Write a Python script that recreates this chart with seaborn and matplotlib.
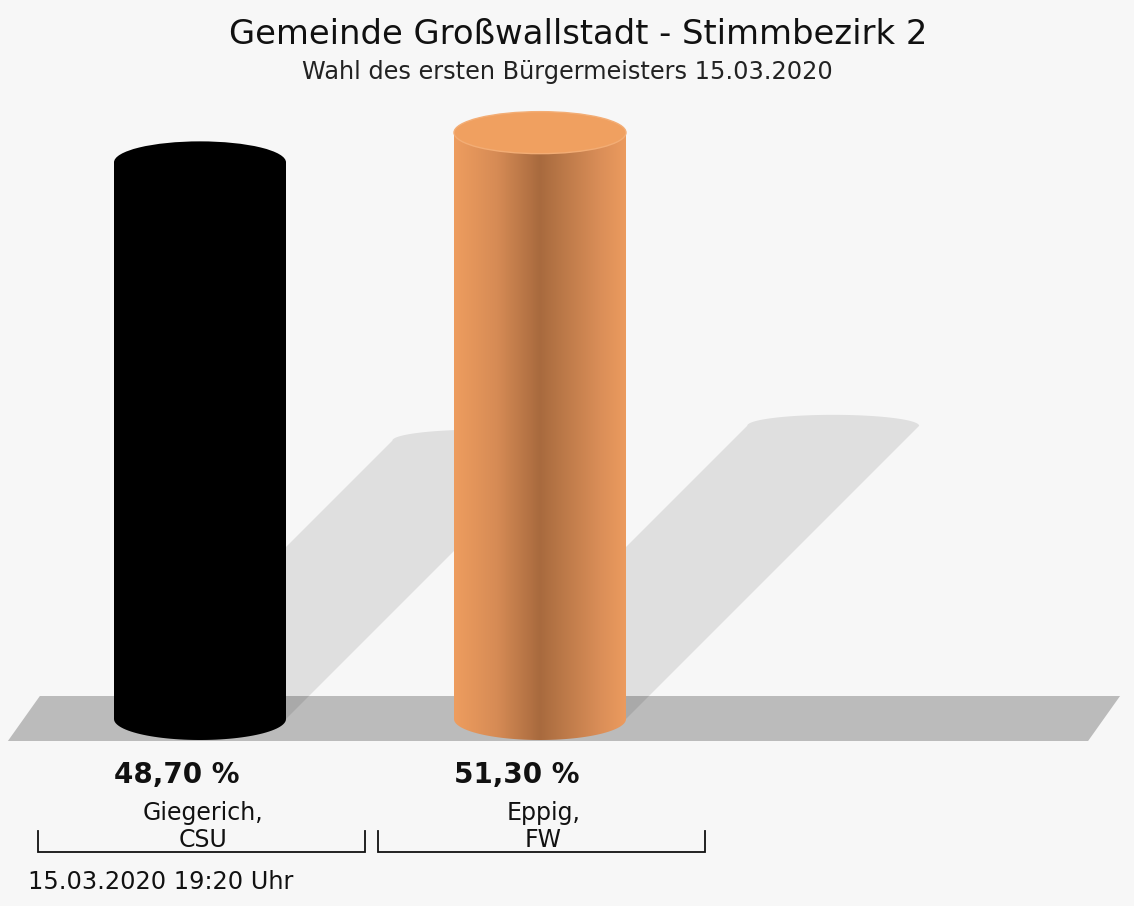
import numpy as np
import pandas as pd
import matplotlib
matplotlib.use("Agg")
import matplotlib.pyplot as plt
import seaborn as sns
from matplotlib.patches import Polygon, PathPatch, Ellipse, Rectangle
from matplotlib.path import Path
from matplotlib.colors import LinearSegmentedColormap

# ---------------- data ----------------
candidates = ["Giegerich,\nCSU", "Eppig,\nFW"]
shares = [48.70, 51.30]
share_labels = ["48,70 %", "51,30 %"]
bar_colors = ["#000000", "#eb9a5c"]
title = "Gemeinde Großwallstadt - Stimmbezirk 2"
subtitle = "Wahl des ersten Bürgermeisters 15.03.2020"
timestamp = "15.03.2020 19:20 Uhr"

# ---------------- layout ----------------
W, H = 1134, 906
BG = "#f7f7f7"
PX_X = 340.0     # pixels per category step
PX_Y = 11.43     # pixels per percent
X0 = 200.0       # pixel x of first category
Y0 = 719.0       # pixel y (from top) of the 0 % level

plt.rcParams["font.family"] = ["DejaVu Sans"]

fig = plt.figure(figsize=(W / 100, H / 100), dpi=100, facecolor=BG)
ax = fig.add_axes([0, 0, 1, 1])
ax.set_facecolor(BG)

df = pd.DataFrame({"candidate": candidates, "share": shares})
sns.barplot(data=df, x="candidate", y="share", hue="candidate",
            palette=bar_colors, width=172 / PX_X, ax=ax, legend=False,
            saturation=1, zorder=3, linewidth=0)

bars = sorted([p for p in ax.patches if isinstance(p, Rectangle) and p.get_width() > 0],
              key=lambda p: p.get_x())

ax.set_xlim(-X0 / PX_X, (W - X0) / PX_X)
ax.set_ylim(-(H - Y0) / PX_Y, Y0 / PX_Y)
ax.axis("off")

def py(pix):  # pixel-from-top -> data y
    return (Y0 - pix) / PX_Y

# floor slab
floor = Polygon([(-0.565, py(741)), (-0.471, py(696)), (2.706, py(696)), (2.612, py(741))],
                closed=True, facecolor="#bbbbbb", edgecolor="none", zorder=1)
ax.add_patch(floor)

ry = 21.0 / PX_Y          # ellipse semi-height (data)
ry_s = 11.0 / PX_Y        # shadow top arc
t = np.linspace(np.pi, 2 * np.pi, 60)   # lower half
t_up = np.linspace(np.pi, 0, 60)        # upper half, left to right

grad_cmap = LinearSegmentedColormap.from_list(
    "cyl", [(0.0, "#ee9d5f"), (0.25, "#d68b55"), (0.5, "#a86a3e"),
            (0.62, "#b97747"), (0.85, "#da8e58"), (1.0, "#ec9b5e")])

for i, b in enumerate(bars):
    x0, w, h = b.get_x(), b.get_width(), b.get_height()
    x1 = x0 + w
    xc = x0 + w / 2
    rx = w / 2

    # shadow
    sh = h / 2
    dx = sh * PX_Y / PX_X
    arc = [(xc + dx + rx * np.cos(a), sh + ry_s * np.sin(a)) for a in t_up]
    shadow = Polygon([(x0, 0)] + arc + [(x1, 0)], closed=True,
                     facecolor="black", alpha=0.095, edgecolor="none", zorder=2)
    ax.add_patch(shadow)

    # cylinder body (rectangle + lower half ellipse)
    verts = [(x0, h), (x0, 0)] + [(xc + rx * np.cos(a), ry * np.sin(a)) for a in t] + [(x1, h), (x0, h)]
    body_path = Path(verts)
    color = bar_colors[i]
    if color == "#000000":
        body = PathPatch(body_path, facecolor="black", edgecolor="none", zorder=3.5)
        ax.add_patch(body)
        lid = Ellipse((xc, h), w, 2 * ry, facecolor="black", edgecolor="none", zorder=4)
        ax.add_patch(lid)
    else:
        body = PathPatch(body_path, facecolor="none", edgecolor="none", zorder=3.5)
        ax.add_patch(body)
        grad = np.linspace(0, 1, 256).reshape(1, -1)
        im = ax.imshow(grad, cmap=grad_cmap, aspect="auto",
                       extent=[x0, x1, -ry, h], zorder=3.6, interpolation="bilinear")
        im.set_clip_path(body)
        lid = Ellipse((xc, h), w, 2 * ry, facecolor="#f0a060", edgecolor="#f3ad75",
                      linewidth=1.0, zorder=4)
        ax.add_patch(lid)

    # percent label
    ax.text(x0, py(783), share_labels[i], ha="left", va="baseline",
            fontsize=20, fontweight="bold", color="#111111", zorder=5)
    # candidate name (one text per line)
    for line, base in zip(candidates[i].split("\n"), (820, 847)):
        ax.text(xc + 0.01, py(base), line, ha="center", va="baseline",
                fontsize=17, color="#111111", zorder=5)
    # bracket
    bl, br = xc - 0.477, xc + 0.486
    ax.plot([bl, bl, br, br], [py(831), py(852), py(852), py(831)],
            color="#111111", linewidth=1.3, solid_joinstyle="miter", zorder=5)

ax.set_xlim(-X0 / PX_X, (W - X0) / PX_X)
ax.set_ylim(-(H - Y0) / PX_Y, Y0 / PX_Y)

fig.text(578 / W, 1 - 44 / H, title, ha="center", va="baseline", fontsize=24.4, color="#111111")
fig.text(567 / W, 1 - 79 / H, subtitle, ha="center", va="baseline", fontsize=17.3, color="#222222")
fig.text(28 / W, 1 - 889 / H, timestamp, ha="left", va="baseline", fontsize=17.3, color="#111111")

fig.savefig("out.png", dpi=100, facecolor=fig.get_facecolor())
